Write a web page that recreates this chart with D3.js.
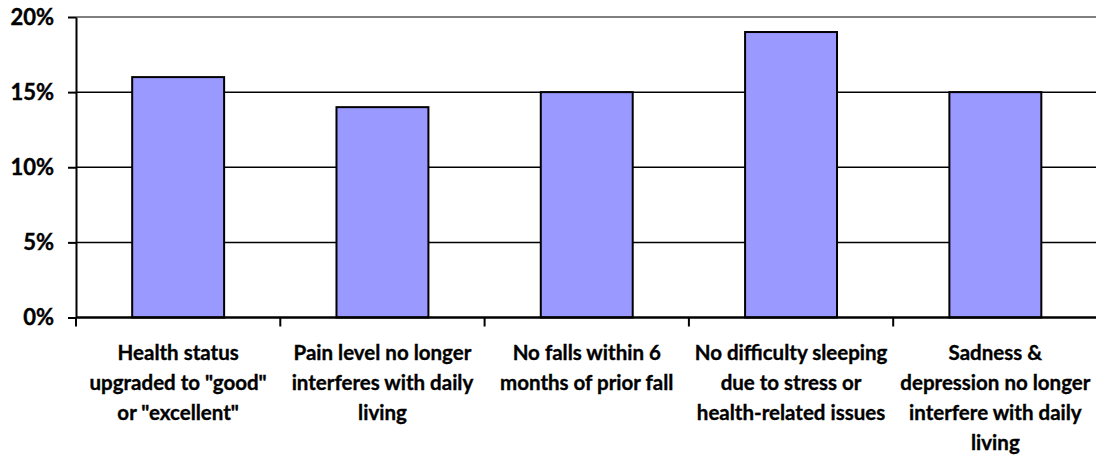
<!DOCTYPE html>
<html>
<head>
<meta charset="utf-8">
<script src="https://cdn.jsdelivr.net/npm/d3@7"></script>
<style>
  html, body { margin: 0; padding: 0; background: #fff; }
  svg { display: block; font-family: Lato, "Open Sans", sans-serif; font-weight: bold; }
</style>
</head>
<body>
<svg id="chart" width="1096" height="455"></svg>
<script>
// category labels, already split into the lines shown under each bar
const categories = [
  ['Health status', 'upgraded to "good"', 'or "excellent"'],
  ['Pain level no longer', 'interferes with daily', 'living'],
  ['No falls within 6', 'months of prior fall'],
  ['No difficulty sleeping', 'due to stress or', 'health-related issues'],
  ['Sadness &', 'depression no longer', 'interfere with daily', 'living']
];
const values = [16, 14, 15, 19, 15];
const yTicks = [0, 5, 10, 15, 20];

const width = 1096, height = 455;
const margin = { top: 17, right: -1.5, bottom: 137.5, left: 76 };

const svg = d3.select('#chart');

const x = d3.scaleBand()
  .domain(d3.range(categories.length))
  .range([margin.left, width - margin.right])
  .paddingInner(0.55)
  .paddingOuter(0.275);

const y = d3.scaleLinear()
  .domain([0, 20])
  .range([height - margin.bottom, margin.top]);

// gridlines (top one is grey, like the plot border)
svg.append('g')
  .selectAll('line')
  .data(yTicks.filter(d => d > 0))
  .join('line')
  .attr('x1', margin.left)
  .attr('x2', width)
  .attr('y1', d => y(d))
  .attr('y2', d => y(d))
  .attr('stroke', d => d === 20 ? '#808080' : '#000')
  .attr('stroke-width', d => d === 20 ? 2 : 1.5);

// bars
svg.append('g')
  .selectAll('rect')
  .data(values)
  .join('rect')
  .attr('x', (d, i) => x(i))
  .attr('width', x.bandwidth())
  .attr('y', d => y(d))
  .attr('height', d => y(0) - y(d))
  .attr('fill', '#9999ff')
  .attr('stroke', '#000')
  .attr('stroke-width', 2);

// y axis
const yAxis = svg.append('g')
  .attr('transform', `translate(${margin.left},0)`)
  .call(d3.axisLeft(y).tickValues(yTicks).tickFormat(d => d + '%').tickSize(8).tickSizeOuter(0));
yAxis.select('.domain').attr('stroke', '#000').attr('stroke-width', 2);
yAxis.selectAll('.tick line').attr('stroke', '#000').attr('stroke-width', 2);
yAxis.selectAll('.tick text')
  .attr('x', -22)
  .attr('font-size', 22)
  .attr('font-family', 'Lato, sans-serif')
  .attr('font-weight', 'bold')
  .attr('fill', '#000')
  .attr('stroke', '#000')
  .attr('stroke-width', 0.4);

// x axis: boundary ticks between categories
const xAxis = svg.append('g')
  .attr('transform', `translate(0,${y(0)})`);
xAxis.append('line')
  .attr('x1', margin.left)
  .attr('x2', width)
  .attr('stroke', '#000')
  .attr('stroke-width', 2.5);
const step = x.step();
xAxis.selectAll('.bound')
  .data(d3.range(categories.length + 1))
  .join('line')
  .attr('class', 'bound')
  .attr('x1', i => x(0) - x.paddingOuter() * step + i * step)
  .attr('x2', i => x(0) - x.paddingOuter() * step + i * step)
  .attr('y1', 0)
  .attr('y2', 9)
  .attr('stroke', '#000')
  .attr('stroke-width', 2);

const labels = svg.append('g')
  .attr('font-size', 20.5)
  .attr('text-anchor', 'middle')
  .attr('fill', '#000')
  .attr('stroke', '#000')
  .attr('stroke-width', 0.35);
categories.forEach((lines, i) => {
  const t = labels.append('text')
    .attr('x', x(i) + x.bandwidth() / 2)
    .attr('y', y(0) + 42.5);
  lines.forEach((ln, j) => {
    t.append('tspan')
      .attr('x', x(i) + x.bandwidth() / 2)
      .attr('y', y(0) + 42.5 + j * 30)
      .text(ln);
  });
});
</script>
</body>
</html>
